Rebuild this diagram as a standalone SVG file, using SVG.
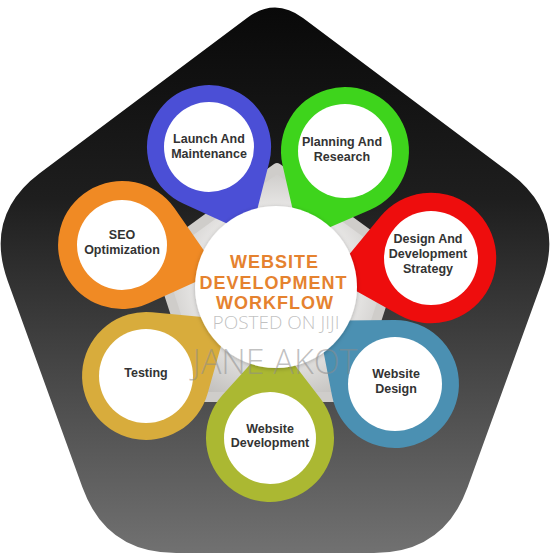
<svg xmlns="http://www.w3.org/2000/svg" xmlns:xlink="http://www.w3.org/1999/xlink" width="554" height="554" viewBox="0 0 554 554">
  <defs>
    <linearGradient id="bg" x1="0" y1="0" x2="0" y2="1">
      <stop offset="0" stop-color="#090909"/>
      <stop offset="0.35" stop-color="#1e1e1e"/>
      <stop offset="1" stop-color="#717171"/>
    </linearGradient>
    <radialGradient id="inner" cx="0.5" cy="0.5" r="0.55">
      <stop offset="0.55" stop-color="#ecebea"/>
      <stop offset="1" stop-color="#c3c1be"/>
    </radialGradient>
    <filter id="shadow" x="-20%" y="-20%" width="140%" height="140%">
      <feDropShadow dx="0" dy="1" stdDeviation="2" flood-color="#000" flood-opacity="0.25"/>
    </filter>
    <path id="pin" d="M41,-49.2 A64,64 0 1 0 41,49.2 L100,0 Z"/>
    <style>
      .hole { fill: #ffffff; }
      .lbl { font-family: "Liberation Sans", Arial, sans-serif; font-weight: 700; font-size: 12.5px; fill: #333333; text-anchor: middle; }
      .title { font-family: "Liberation Sans", Arial, sans-serif; font-weight: 700; font-size: 18px; letter-spacing: 1px; fill: #e5822f; text-anchor: middle; }
      .wm { font-family: "Open Sans", "Liberation Sans", sans-serif; font-weight: 300; fill: #8c8c8c; fill-opacity: 0.55; text-anchor: middle; }
    </style>
  </defs>

  <rect width="554" height="554" fill="#ffffff"/>

  <g id="background">
    <path d="M303,18 L510,173 Q566,215 542.3,280.9 L467.7,487.1 Q444,553 374,553 L176,553 Q106,553 82.3,487.1 L7.7,280.9 Q-16,215 40,173 L247,18 Q275,-3 303,18 Z" fill="url(#bg)"/>
    <path d="M277,168 L397.4,255.5 L351.4,397 L202.6,397 L156.6,255.5 Z" fill="url(#inner)" stroke="#cfcdca" stroke-width="10" stroke-linejoin="round"/>
  </g>

  <g id="node-launch">
    <use xlink:href="#pin" href="#pin" transform="translate(209,147) rotate(64.4) scale(0.97)" fill="#4b4fd6"/>
    <circle class="hole" cx="209" cy="147" r="45"/>
    <text class="lbl" x="209" y="143">Launch And</text>
    <text class="lbl" x="209" y="158">Maintenance</text>
  </g>

  <g id="node-planning">
    <use xlink:href="#pin" href="#pin" transform="translate(345,151) rotate(116.9)" fill="#3ed41c"/>
    <circle class="hole" cx="345" cy="151" r="47"/>
    <text class="lbl" x="342" y="146">Planning And</text>
    <text class="lbl" x="342" y="161">Research</text>
  </g>

  <g id="node-design-strategy">
    <use xlink:href="#pin" href="#pin" transform="translate(431,258) rotate(169.4) scale(1.02)" fill="#ee0d0d"/>
    <circle class="hole" cx="431" cy="258" r="47"/>
    <text class="lbl" x="428" y="243">Design And</text>
    <text class="lbl" x="428" y="258">Development</text>
    <text class="lbl" x="428" y="273">Strategy</text>
  </g>

  <g id="node-website-design">
    <use xlink:href="#pin" href="#pin" transform="translate(395,384) rotate(-140.8)" fill="#4b90b2"/>
    <circle class="hole" cx="395" cy="384" r="47"/>
    <text class="lbl" x="396" y="378">Website</text>
    <text class="lbl" x="396" y="393">Design</text>
  </g>

  <g id="node-website-development">
    <use xlink:href="#pin" href="#pin" transform="translate(270,438) rotate(-87.7)" fill="#abb832"/>
    <circle class="hole" cx="270" cy="438" r="46"/>
    <text class="lbl" x="270" y="433">Website</text>
    <text class="lbl" x="270" y="447">Development</text>
  </g>

  <g id="node-testing">
    <use xlink:href="#pin" href="#pin" transform="translate(146,376) rotate(-34.4)" fill="#d8ac3c"/>
    <circle class="hole" cx="146" cy="376" r="47"/>
    <text class="lbl" x="146" y="377">Testing</text>
  </g>

  <g id="node-seo">
    <use xlink:href="#pin" href="#pin" transform="translate(122,245) rotate(15.3)" fill="#f08a24"/>
    <circle class="hole" cx="122" cy="245" r="45"/>
    <text class="lbl" x="122" y="239">SEO</text>
    <text class="lbl" x="122" y="254">Optimization</text>
  </g>

  <g id="node-center">
    <circle cx="276" cy="287" r="81" fill="#ffffff" filter="url(#shadow)"/>
    <text class="title" x="274.5" y="268">WEBSITE</text>
    <text class="title" x="273.5" y="289">DEVELOPMENT</text>
    <text class="title" x="275" y="309">WORKFLOW</text>
  </g>

  <g id="watermark">
    <text class="wm" x="276" y="329" font-size="19">POSTED ON JIJI</text>
    <text class="wm" x="275" y="374" font-size="34">JANE AKOT</text>
  </g>
</svg>
